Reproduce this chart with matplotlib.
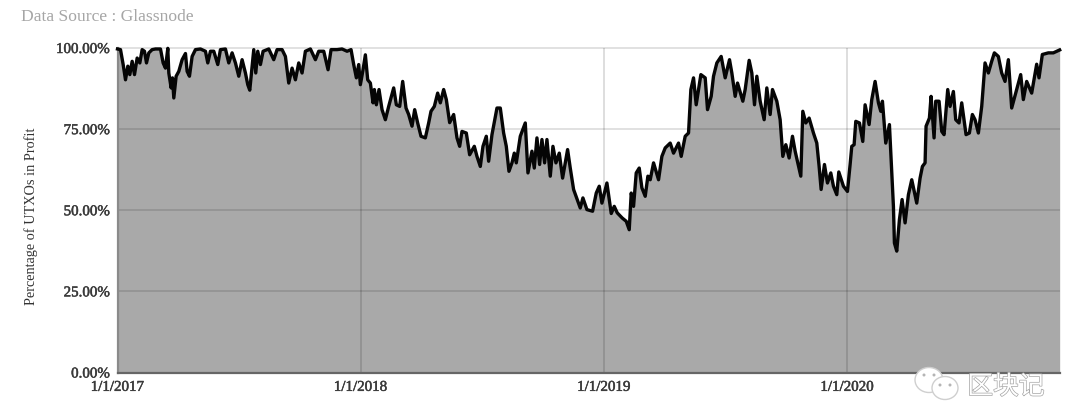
import matplotlib
matplotlib.use("Agg")
import matplotlib.pyplot as plt
from matplotlib.patches import Ellipse
import matplotlib.patheffects as pe

# Days since 1/1/2017 and percentage of UTXOs in profit
days_2017 = [0, 4.5, 8.5, 12, 15.5, 18.5, 22, 25.5, 29.5, 33.5, 37, 40.5, 43.5, 47, 52, 57, 64.5, 68.5, 72, 75.5, 77, 80.5, 82.5, 84.5, 88, 92, 97, 102, 104.5, 108, 112, 117, 124.5, 132, 135.5, 139.5, 144.5, 150.5, 154.5, 162, 167, 172, 177, 182, 187, 192, 195.5, 198.5, 202, 204.5, 207.5, 210.5, 214.5, 218.5, 227, 234.5, 239.5, 247, 252, 257, 262, 267, 272, 277, 282, 289.5, 297, 302, 309.5, 316, 320.5, 329.5, 337, 344.5, 350.5, 354.5, 358.5, 362]
vals_2017 = [99.7, 99.5, 94.9, 90.2, 94.4, 91.8, 95.9, 91.8, 96.9, 95.4, 99.5, 99, 95.4, 98.5, 99.5, 99.7, 99.7, 95.4, 93.8, 99.9, 92.3, 87.7, 90.8, 84.6, 91.3, 92.8, 96.4, 98.3, 92.8, 91.3, 97.4, 99.5, 99.7, 99, 95.4, 99, 99, 94.9, 99.5, 99.7, 95.4, 98.5, 95.4, 91.3, 96.4, 92.3, 88.7, 87, 94.4, 99.5, 92.3, 99, 94.9, 99, 99.7, 96.4, 99.5, 99.5, 97.4, 89.2, 93.8, 90.2, 95.4, 92.3, 99, 99.7, 96.4, 99, 99, 93.3, 99.5, 99.5, 99.7, 99, 99.5, 94.9, 90.8, 94.9]

days_2018 = [364.5, 368.5, 372, 375.5, 379.5, 383.5, 385.5, 388.5, 392.5, 397, 402, 407, 414.5, 418.5, 423.5, 428, 433, 437, 442, 446, 450.5, 455.5, 462, 467, 470.5, 475.5, 480.5, 484.5, 489.5, 493.5, 498.5, 504.5, 509.5, 513.5, 517, 523.5, 528.5, 535.5, 539.5, 544.5, 548.5, 553.5, 557, 562, 569.5, 574.5, 579.5, 583.5, 587.5, 592, 595.5, 598.5, 604.5, 612, 616, 622, 625.5, 629.5, 633.5, 637, 641, 644.5, 649.5, 653.5, 658, 663, 668, 675.5, 679.5, 684.5, 694.5, 698.5, 704.5, 713, 718.5, 723]
vals_2018 = [88.7, 93.3, 97.9, 90.2, 89.2, 83.1, 87.2, 82.5, 87.2, 81, 77.9, 82, 87.7, 82.5, 82, 89.7, 81.5, 79.5, 75.9, 81, 76.9, 72.8, 72.3, 76.9, 80.5, 82, 86.1, 83.1, 87.2, 84.1, 77, 79.5, 72.3, 69.7, 74.3, 73.8, 67.1, 69.7, 66.6, 63.5, 69.7, 72.8, 65.1, 73.3, 81.5, 81.5, 73.8, 69.7, 62, 64.6, 67.6, 64.6, 72.8, 76.9, 61.5, 68.2, 63, 72.3, 64.1, 71.8, 64.6, 71.8, 60.5, 69.7, 64.6, 67.6, 59.9, 68.7, 63, 56.4, 50.7, 53.8, 50.2, 49.7, 55.3, 57.4]

days_2019 = [727, 734.5, 741, 745.5, 750, 757.5, 763.5, 768, 771, 774.5, 778.5, 783, 787, 792, 796, 799.5, 804.5, 812, 817, 822, 829.5, 834.5, 842, 846, 852, 857, 860.5, 864.5, 868.5, 872, 875.5, 882, 885.5, 891, 894.5, 899.5, 906, 912, 918.5, 922, 927, 930.5, 938.5, 942, 948, 952, 956, 959.5, 964.5, 970.5, 974.5, 979.5, 983, 989.5, 994.5, 998.5, 1003, 1008, 1013, 1017, 1021, 1025.5, 1028.5, 1033, 1038, 1044.5, 1049.5, 1053, 1056, 1061, 1065.5, 1070.5, 1074.5, 1079.5, 1082.5, 1089.5]
vals_2019 = [52.2, 58.4, 49, 51.2, 49.2, 47.6, 46.6, 44, 55.3, 51.2, 61.5, 63, 56.9, 54.3, 60.5, 59.4, 64.6, 59.4, 66.6, 69.2, 70.7, 67.6, 70.7, 66.6, 72.8, 73.8, 87.2, 90.8, 82.5, 87.2, 91.8, 90.8, 81, 85.1, 91.3, 95.4, 97.4, 90.8, 96.4, 92.3, 85.1, 89.2, 83.6, 87.2, 96.2, 92.3, 82.5, 91.3, 83.6, 77.9, 87.7, 79.5, 87.2, 83.6, 77.9, 66.6, 70.2, 66.1, 72.8, 68.2, 64.6, 60.5, 80.5, 76.9, 78.4, 73.8, 70.7, 63.5, 56.4, 64.1, 58.4, 61.5, 57.4, 54.8, 61.8, 57.4]

days_2020 = [1095.5, 1099.5, 1102, 1105.5, 1108, 1113.5, 1118.5, 1122, 1128, 1132, 1137, 1142, 1145.5, 1148, 1153, 1158.5, 1162, 1164.5, 1166, 1169.5, 1173.5, 1177.5, 1182, 1187, 1192, 1199.5, 1204.5, 1208, 1212, 1213.5, 1218.5, 1221, 1225.5, 1228, 1233, 1237, 1240.5, 1246, 1249.5, 1254.5, 1258, 1263, 1267, 1273.5, 1278.5, 1283, 1287, 1292, 1297, 1302, 1307, 1312, 1316, 1322, 1327, 1332, 1337, 1342, 1349.5, 1355.5, 1359.5, 1364.5, 1372, 1379.5, 1383, 1388, 1397, 1404.5, 1414]
vals_2020 = [55.8, 64.1, 69.7, 70.2, 77.4, 76.9, 71.2, 82.5, 76.4, 84.1, 89.7, 83.1, 80.5, 83.6, 70.7, 76.4, 61.5, 51.2, 39.9, 37.4, 47.1, 53.3, 46.1, 54.8, 59.4, 52.2, 59.9, 63.5, 64.6, 75.9, 78.4, 85.1, 72.3, 83.6, 83.6, 74.3, 73.3, 87.2, 82, 86.6, 77.9, 76.9, 83.1, 73.3, 73.8, 79.5, 77.9, 73.8, 82, 95.4, 92.3, 95.9, 98.5, 97.4, 92.3, 89.7, 96.4, 81.5, 87.2, 91.8, 84.1, 89.7, 86.1, 95, 90.8, 98, 98.5, 98.5, 99.4]

year_ticks = [0, 365, 730, 1095]
year_labels = ["1/1/2017", "1/1/2018", "1/1/2019", "1/1/2020"]
pct_ticks = [0, 25, 50, 75, 100]
pct_labels = ["0.00%", "25.00%", "50.00%", "75.00%", "100.00%"]

days = days_2017 + days_2018 + days_2019 + days_2020
vals = vals_2017 + vals_2018 + vals_2019 + vals_2020

W, H = 1080, 404
plt.rcParams["font.family"] = ["Liberation Serif", "DejaVu Serif"]
fig = plt.figure(figsize=(W / 100, H / 100), dpi=100, facecolor="white")
ax = fig.add_axes([117.5 / W, 1 - 372.5 / H, 942.5 / W, 324.5 / H])
ax.set_xlim(0, 1414.5)
ax.set_ylim(0, 100)

ax.fill_between(days, vals, 0, color="#a9a9a9", lw=0, zorder=1)
ax.vlines(year_ticks[1:], 0, 100, color="black", alpha=0.14, lw=1.3, zorder=2)
ax.hlines(pct_ticks[1:], 0, 1414.5, color="black", alpha=0.13, lw=1.3, zorder=2, clip_on=False)
ax.plot(days, vals, color="#050505", lw=2.4, solid_joinstyle="round", zorder=3, clip_on=False)

for s in ["top", "right"]:
    ax.spines[s].set_visible(False)
ax.spines["left"].set_color("#8a8a8a")
ax.spines["left"].set_linewidth(1.6)
ax.spines["bottom"].set_color("#666666")
ax.spines["bottom"].set_linewidth(1.6)

ax.set_yticks(pct_ticks, pct_labels)
ax.set_xticks(year_ticks, year_labels)
ax.tick_params(axis="both", length=0, labelcolor="#3a3a3a", labelsize=10.8)
ax.tick_params(axis="y", pad=5.5)
ax.tick_params(axis="x", pad=6)
halo = [pe.withStroke(linewidth=0.35, foreground="#3a3a3a")]
for t in ax.get_xticklabels() + ax.get_yticklabels():
    t.set_path_effects(halo)
ax.get_xticklabels()[0].set_x(2)
ax.set_ylabel("Percentage of UTXOs in Profit", fontsize=10.3, color="#333333")
ax.yaxis.set_label_coords((28 + 9 - 117) / 943, 0.48)

fig.text(21 / W, 1 - 17 / H, "Data Source : Glassnode", color="#a6a6a6", fontsize=12.6, va="center", ha="left")

# Watermark
for cx, cy, w, h in [(929, 380, 28, 25), (945, 388, 26, 23)]:
    fig.add_artist(Ellipse((cx / W, 1 - cy / H), w / W, h / H, transform=fig.transFigure,
                           facecolor="white", edgecolor="#cfcfcf", lw=1.0, zorder=5))
for cx, cy in [(924, 375), (934, 375), (940, 385), (950, 385)]:
    fig.add_artist(Ellipse((cx / W, 1 - cy / H), 3 / W, 3 / H, transform=fig.transFigure,
                           facecolor="#b5b5b5", edgecolor="none", zorder=6))
fig.text(1006 / W, 1 - 387 / H, "区块记", family=["Noto Sans CJK SC", "DejaVu Sans"], fontsize=18.5,
         color="white", ha="center", va="center", zorder=6,
         path_effects=[pe.withStroke(linewidth=1.0, foreground="#a5a5a5")])

fig.savefig("out.png", dpi=100, facecolor="white")
